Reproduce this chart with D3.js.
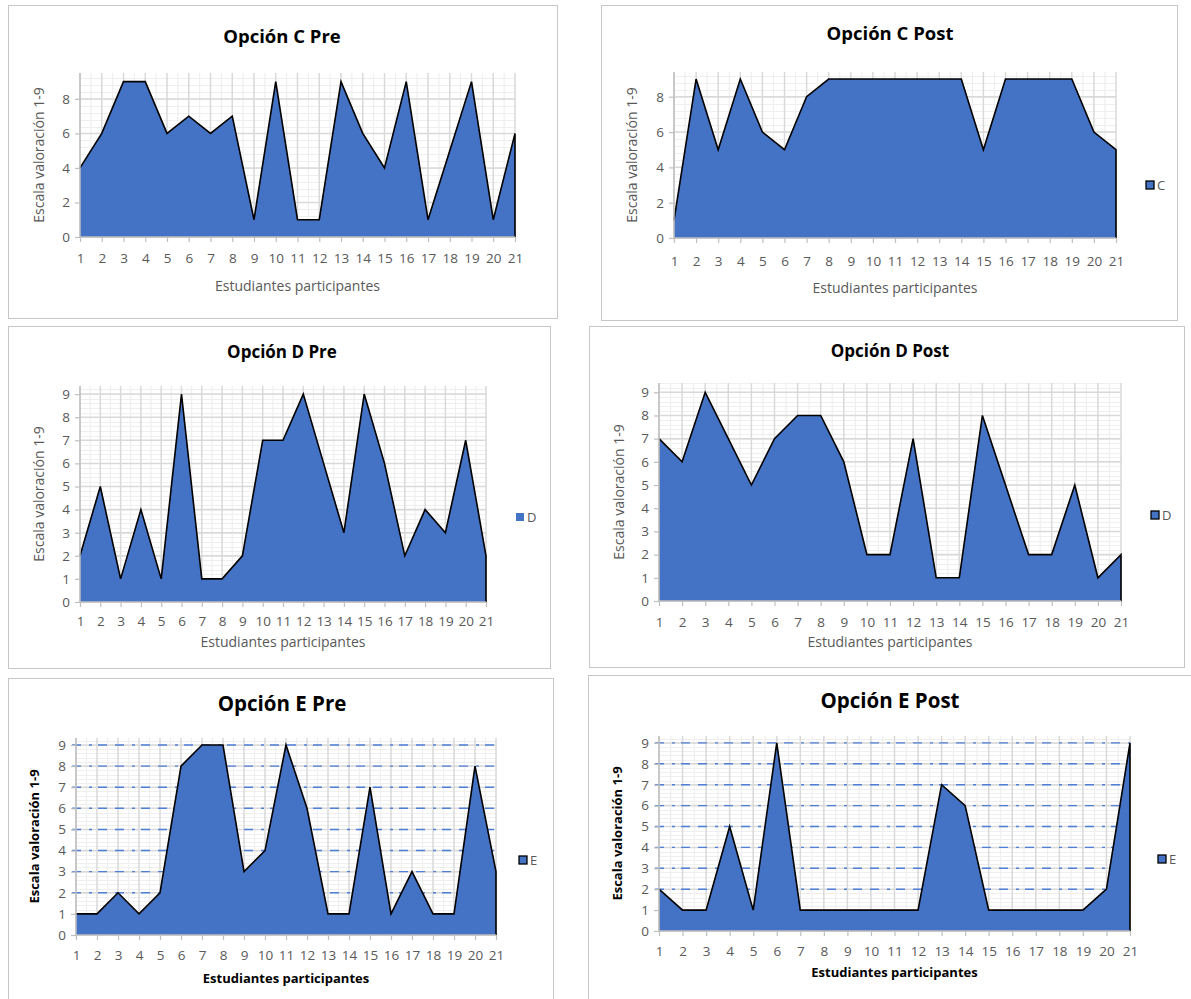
<!DOCTYPE html>
<html>
<head>
<meta charset="utf-8">
<script src="https://cdn.jsdelivr.net/npm/d3@7"></script>
<style>
  html, body { margin: 0; padding: 0; background: #fff; }
  svg { display: block; }
  text { font-family: "Open Sans", "Noto Sans", sans-serif; }
</style>
</head>
<body>
<svg id="chart" width="1191" height="999"></svg>
<script>
// Students (x categories) and ratings on a 1–9 scale
const students = ["1","2","3","4","5","6","7","8","9","10","11","12","13","14","15","16","17","18","19","20","21"];

const cPre  = [4,6,9,9,6,7,6,7,1,9,1,1,9,6,4,9,1,5,9,1,6];
const cPost = [1,9,5,9,6,5,8,9,9,9,9,9,9,9,5,9,9,9,9,6,5];
const dPre  = [2,5,1,4,1,9,1,1,2,7,7,9,6,3,9,6,2,4,3,7,2];
const dPost = [7,6,9,7,5,7,8,8,6,2,2,7,1,1,8,5,2,2,5,1,2];
const ePre  = [1,1,2,1,2,8,9,9,3,4,9,6,1,1,7,1,3,1,1,8,3];
const ePost = [2,1,1,5,1,9,1,1,1,1,1,1,7,6,1,1,1,1,1,2,9];

const ticksEven = [0,2,4,6,8];
const ticksAll  = [0,1,2,3,4,5,6,7,8,9];
const refLines  = [2,3,4,5,6,7,8,9];

const titles = ["Opción C Pre","Opción C Post","Opción D Pre","Opción D Post","Opción E Pre","Opción E Post"];
const legendNames = [null,"C","D","D","E","E"];
const yTitle = "Escala valoración 1-9";
const xTitle = "Estudiantes participantes";

const FILL = "#4472C4";
const DASH = "#4f7fd6";
const GRID = "#d9d9d9";
const MINOR = "#efefef";
const LABEL = "#595959";

const panels = [
  { values: cPre,  ticks: ticksEven, minorStep: 0.4, ymax: 9.5,
    box: [8,5,549,313], x0: 80, x1: 515, yz: 237, yt: 73,
    title: [282, 43, 18.5], yTitleX: 38, xLabY: 262, xTitleY: 285, legend: null, bold: false, ref: false },
  { values: cPost, ticks: ticksEven, minorStep: 0.4, ymax: 9.4,
    box: [601,5,576,315], x0: 674, x1: 1116, yz: 238, yt: 72,
    title: [890, 40, 18.5], yTitleX: 631, xLabY: 265, xTitleY: 287, legend: [1146,185,true], bold: false, ref: false },
  { values: dPre,  ticks: ticksAll, minorStep: 0.2, ymax: 9.35,
    box: [8,326,542,342], x0: 80, x1: 486, yz: 602, yt: 386,
    title: [282, 358, 17], yTitleX: 38, xLabY: 625, xTitleY: 641, legend: [516,517,false], bold: false, ref: false },
  { values: dPost, ticks: ticksAll, minorStep: 0.2, ymax: 9.4,
    box: [589,326,595,341], x0: 659, x1: 1121, yz: 601, yt: 383,
    title: [890, 357, 17], yTitleX: 618, xLabY: 626, xTitleY: 641, legend: [1151,515,true], bold: false, ref: false },
  { values: ePre,  ticks: ticksAll, minorStep: 0.2, ymax: 9.33,
    box: [8,678,545,330], x0: 76, x1: 496, yz: 935, yt: 738,
    title: [282, 711, 20.5], yTitleX: 34, xLabY: 959, xTitleY: 978, legend: [519,860,true], bold: true, ref: true },
  { values: ePost, ticks: ticksAll, minorStep: 0.2, ymax: 9.33,
    box: [588,675,610,330], x0: 659, x1: 1130, yz: 931, yt: 736,
    title: [890, 708, 20.5], yTitleX: 617, xLabY: 955, xTitleY: 972, legend: [1158,859,true], bold: true, ref: true }
];

const svg = d3.select("#chart");

panels.forEach((p, i) => {
  const g = svg.append("g");
  const [bx, by, bw, bh] = p.box;

  g.append("rect")
    .attr("x", bx + 0.5).attr("y", by + 0.5)
    .attr("width", bw).attr("height", bh)
    .attr("fill", "#fff").attr("stroke", "#c6c6c6").attr("stroke-width", 1);

  const x = d3.scalePoint().domain(students).range([p.x0, p.x1]);
  const y = d3.scaleLinear().domain([0, p.ymax]).range([p.yz, p.yt]);
  const step = x.step();

  // minor horizontal grid
  const minor = d3.range(0, p.ymax + 1e-6, p.minorStep);
  g.append("g").selectAll("line").data(minor).join("line")
    .attr("x1", p.x0).attr("x2", p.x1)
    .attr("y1", d => Math.round(y(d)) + 0.5).attr("y2", d => Math.round(y(d)) + 0.5)
    .attr("stroke", MINOR).attr("stroke-width", 1);

  // minor vertical grid (between students)
  g.append("g").selectAll("line").data(students.slice(0, -1)).join("line")
    .attr("x1", d => x(d) + step / 2).attr("x2", d => x(d) + step / 2)
    .attr("y1", p.yt).attr("y2", p.yz)
    .attr("stroke", MINOR).attr("stroke-width", 1.2);

  // major horizontal grid
  g.append("g").selectAll("line").data(p.ticks).join("line")
    .attr("x1", p.x0).attr("x2", p.x1)
    .attr("y1", d => y(d)).attr("y2", d => y(d))
    .attr("stroke", GRID).attr("stroke-width", 1.5);

  // major vertical grid
  g.append("g").selectAll("line").data(students).join("line")
    .attr("x1", d => x(d)).attr("x2", d => x(d))
    .attr("y1", p.yt).attr("y2", p.yz)
    .attr("stroke", GRID).attr("stroke-width", 1.5);

  // dash-dot reference lines
  if (p.ref) {
    g.append("g").selectAll("line").data(refLines).join("line")
      .attr("x1", p.x0 - 4).attr("x2", p.x1)
      .attr("y1", d => y(d)).attr("y2", d => y(d))
      .attr("stroke", DASH).attr("stroke-width", 1.4)
      .attr("stroke-dasharray", "9,8,3,6,9,8");
  }

  // area
  const pts = p.values.map((v, k) => [x(students[k]), y(v)]);
  const area = d3.area()
    .x((d, k) => x(students[k]))
    .y0(y(0))
    .y1(d => y(d));
  g.append("path").datum(p.values)
    .attr("d", area)
    .attr("fill", FILL);

  // outline along the top and down the right edge
  const outline = pts.concat([[x(students[students.length - 1]), y(0)]]);
  g.append("path")
    .attr("d", d3.line()(outline))
    .attr("fill", "none").attr("stroke", "#000").attr("stroke-width", 1.6)
    .attr("stroke-linejoin", "miter");

  // axes
  const xAxis = d3.axisBottom(x).tickSize(5).tickPadding(6);
  const xg = g.append("g").attr("transform", `translate(0,${p.yz})`).call(xAxis);
  const yAxis = d3.axisLeft(y).tickValues(p.ticks).tickSize(5).tickPadding(5).tickFormat(d3.format("d"));
  const yg = g.append("g").attr("transform", `translate(${p.x0},0)`).call(yAxis);
  [xg, yg].forEach(ax => {
    ax.select(".domain").attr("stroke", "#bfbfbf").attr("stroke-width", 1.5);
    ax.selectAll(".tick line").attr("stroke", "#bfbfbf").attr("stroke-width", 1.2);
    ax.selectAll(".tick text").attr("fill", LABEL)
      .style("font-family", "'Open Sans', sans-serif").style("font-size", "13.5px");
  });
  yg.select(".domain").attr("d", `M0,${p.yt}V${p.yz}`);
  xg.select(".domain").attr("d", `M${p.x0},0H${p.x1}`);
  xg.selectAll(".tick text").attr("y", p.xLabY - p.yz - 9).attr("dy", "0.71em");

  // title
  g.append("text")
    .attr("x", p.title[0]).attr("y", p.title[1])
    .attr("text-anchor", "middle")
    .attr("font-weight", "bold").attr("font-size", p.title[2] + "px")
    .attr("fill", "#000")
    .text(titles[i]);

  // axis titles
  g.append("text")
    .attr("transform", `translate(${p.yTitleX},${(p.yt + p.yz) / 2}) rotate(-90)`)
    .attr("text-anchor", "middle").attr("dominant-baseline", "central")
    .attr("font-size", p.bold ? "13px" : "14px")
    .attr("font-weight", p.bold ? "bold" : "normal")
    .attr("fill", p.bold ? "#000" : LABEL)
    .text(yTitle);

  g.append("text")
    .attr("x", (p.x0 + p.x1) / 2).attr("y", p.xTitleY)
    .attr("text-anchor", "middle").attr("dominant-baseline", "central")
    .attr("font-size", p.bold ? "13px" : "14px")
    .attr("font-weight", p.bold ? "bold" : "normal")
    .attr("fill", p.bold ? "#000" : LABEL)
    .text(xTitle);

  // legend
  if (p.legend && legendNames[i]) {
    const [lx, ly, outlined] = p.legend;
    g.append("rect")
      .attr("x", lx).attr("y", ly - 4).attr("width", 8).attr("height", 8)
      .attr("fill", FILL)
      .attr("stroke", outlined ? "#000" : "none").attr("stroke-width", 1.3);
    g.append("text")
      .attr("x", lx + 11).attr("y", ly)
      .attr("dominant-baseline", "central")
      .attr("font-size", "13px").attr("fill", LABEL)
      .text(legendNames[i]);
  }
});
</script>
</body>
</html>
